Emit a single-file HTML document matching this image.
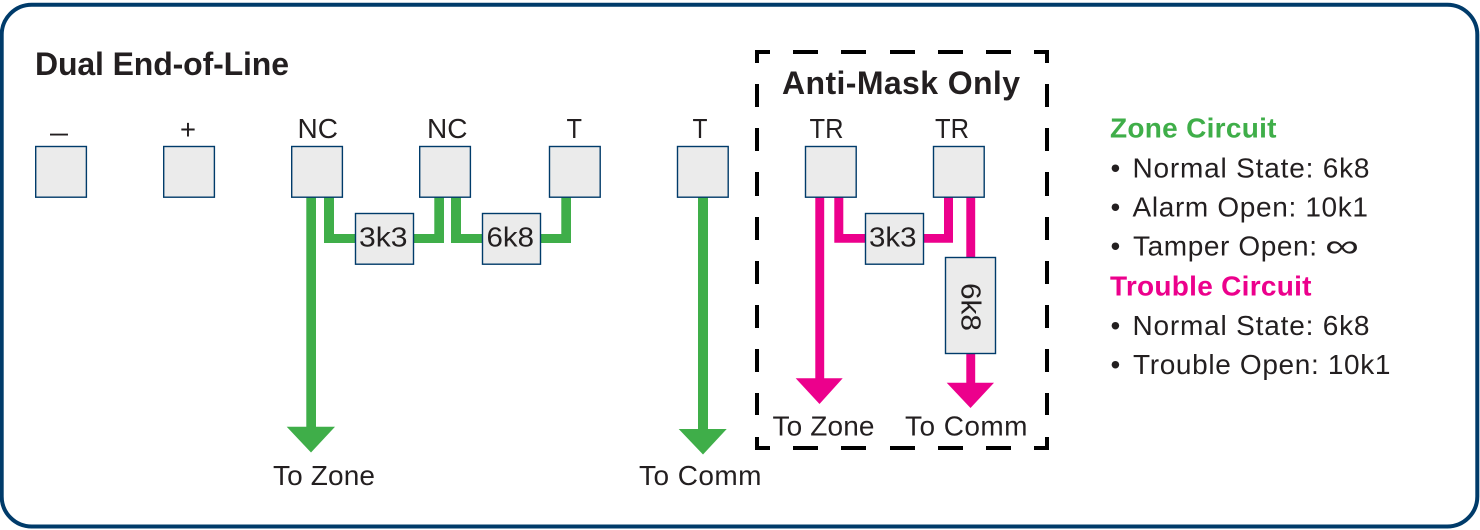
<!DOCTYPE html>
<html lang="en">
<head>
<meta charset="utf-8">
<title>Dual End-of-Line</title>
<style>
html,body{margin:0;padding:0;background:#fff;width:1480px;height:530px;overflow:hidden}
svg{display:block}
text{font-family:"Liberation Sans","DejaVu Sans",sans-serif;font-size:28px;fill:#231f20}
.b{font-weight:bold}
.box{fill:#ebebeb;stroke:#003b6a;stroke-width:1.4}
</style>
</head>
<body>
<svg xmlns="http://www.w3.org/2000/svg" width="1480" height="530" viewBox="0 0 1480 530">
<rect x="1.7" y="4.7" width="1475.6" height="521.8" rx="30" ry="30" fill="#fff" stroke="#003b6a" stroke-width="4"/>

<!-- dashed frame -->
<g fill="#000">
<path d="M755 50h15v4h-11v9h-4zM1049 50h-15v4h11v9h4zM755 450h15v-4h-11v-9h-4zM1049 450h-15v-4h11v-9h4z"/>
<rect x="793" y="50" width="25" height="4"/><rect x="841" y="50" width="25" height="4"/><rect x="890" y="50" width="25" height="4"/><rect x="938" y="50" width="25" height="4"/><rect x="986" y="50" width="25" height="4"/>
<rect x="793" y="446" width="25" height="4"/><rect x="841" y="446" width="25" height="4"/><rect x="890" y="446" width="25" height="4"/><rect x="938" y="446" width="25" height="4"/><rect x="986" y="446" width="25" height="4"/>
<rect x="755" y="84" width="4" height="23"/><rect x="755" y="128" width="4" height="23"/><rect x="755" y="172" width="4" height="24"/><rect x="755" y="217" width="4" height="23"/><rect x="755" y="261" width="4" height="23"/><rect x="755" y="305" width="4" height="23"/><rect x="755" y="349" width="4" height="23"/><rect x="755" y="393" width="4" height="22"/>
<rect x="1045" y="84" width="4" height="23"/><rect x="1045" y="128" width="4" height="23"/><rect x="1045" y="172" width="4" height="24"/><rect x="1045" y="217" width="4" height="23"/><rect x="1045" y="261" width="4" height="23"/><rect x="1045" y="305" width="4" height="23"/><rect x="1045" y="349" width="4" height="23"/><rect x="1045" y="393" width="4" height="22"/>
</g>

<!-- green wires -->
<g fill="#3fae49">
<rect x="306.3" y="197" width="9.7" height="232"/>
<polygon points="286.7,426.7 335,426.7 311,452.5"/>
<path d="M324 197h10v37h22v9h-32z"/>
<path d="M434.3 197h9.7v46h-31v-9h21.3z"/>
<path d="M451 197h10v37h22v9h-32z"/>
<path d="M561.3 197h9.7v46h-31v-9h21.3z"/>
<rect x="698" y="197" width="10" height="234"/>
<polygon points="678.7,429 726.7,429 703,454.5"/>
</g>

<!-- pink wires -->
<g fill="#ec008c">
<rect x="815.3" y="197" width="8.9" height="183"/>
<polygon points="795.7,378.3 842.7,378.3 819.5,404"/>
<path d="M834.3 197h9v37h23v8.8h-32z"/>
<path d="M944 197h9v45.8h-30v-8.8h21z"/>
<rect x="966.3" y="197" width="8.9" height="187"/>
<polygon points="946.7,382.7 994,382.7 970.5,408"/>
</g>

<!-- terminals -->
<rect class="box" x="35.7" y="146.5" width="50.7" height="50.7"/>
<rect class="box" x="163.7" y="146.5" width="50.7" height="50.7"/>
<rect class="box" x="291.7" y="146.5" width="50.7" height="50.7"/>
<rect class="box" x="419.7" y="146.5" width="50.7" height="50.7"/>
<rect class="box" x="549.5" y="146.5" width="50.7" height="50.7"/>
<rect class="box" x="677.5" y="146.5" width="50.7" height="50.7"/>
<rect class="box" x="805.5" y="146.5" width="50.7" height="50.7"/>
<rect class="box" x="933.5" y="146.5" width="50.7" height="50.7"/>

<!-- resistors -->
<rect class="box" x="355.5" y="213.5" width="58" height="50.7"/>
<rect class="box" x="482.5" y="213.5" width="58" height="50.7"/>
<rect class="box" x="865.5" y="213.5" width="58" height="50.7"/>
<rect class="box" x="945.5" y="257.5" width="50" height="96"/>

<!-- titles -->
<text class="b" x="35" y="75" style="font-size:32px" textLength="254">Dual End-of-Line</text>
<text class="b" x="782" y="94" style="font-size:32px" textLength="238">Anti-Mask Only</text>

<!-- terminal labels -->
<text x="50" y="141.5" textLength="18" lengthAdjust="spacingAndGlyphs">–</text>
<text x="180" y="139" textLength="16" lengthAdjust="spacingAndGlyphs">+</text>
<text x="297.5" y="138" textLength="40.5" lengthAdjust="spacingAndGlyphs">NC</text>
<text x="427" y="138" textLength="40.5" lengthAdjust="spacingAndGlyphs">NC</text>
<text x="566.5" y="138" textLength="15.5" lengthAdjust="spacingAndGlyphs">T</text>
<text x="692.5" y="138" textLength="15" lengthAdjust="spacingAndGlyphs">T</text>
<text x="809.5" y="138" textLength="34" lengthAdjust="spacingAndGlyphs">TR</text>
<text x="935" y="138" textLength="34" lengthAdjust="spacingAndGlyphs">TR</text>

<!-- resistor labels -->
<text x="359" y="246.5" textLength="48.5" lengthAdjust="spacingAndGlyphs">3k3</text>
<text x="486.5" y="246.5" textLength="47.5" lengthAdjust="spacingAndGlyphs">6k8</text>
<text x="869" y="246.5" textLength="47.5" lengthAdjust="spacingAndGlyphs">3k3</text>
<text transform="translate(961.5 283) rotate(90)" textLength="48" lengthAdjust="spacingAndGlyphs">6k8</text>

<!-- destinations -->
<text x="273" y="485" textLength="102">To Zone</text>
<text x="639" y="485" textLength="122.5">To Comm</text>
<text x="772.5" y="435.7" textLength="102">To Zone</text>
<text x="905" y="435.7" textLength="122.5">To Comm</text>

<!-- legend -->
<text class="b" x="1110" y="137.7" style="fill:#3fae49" textLength="166.5">Zone Circuit</text>
<text x="1110.5" y="177.7">•</text>
<text x="1132.5" y="177.7" textLength="237">Normal State: 6k8</text>
<text x="1110.5" y="216.7">•</text>
<text x="1132.5" y="216.7" textLength="235.5">Alarm Open: 10k1</text>
<text x="1110.5" y="255.7">•</text>
<text x="1133" y="255.7" textLength="184">Tamper Open:</text>
<text x="1325" y="257" textLength="34" lengthAdjust="spacingAndGlyphs" style="font-size:33px">∞</text>
<text class="b" x="1110" y="295.7" style="fill:#ec008c" textLength="201.5">Trouble Circuit</text>
<text x="1110.5" y="335">•</text>
<text x="1132.5" y="335" textLength="237">Normal State: 6k8</text>
<text x="1110.5" y="374">•</text>
<text x="1133" y="374" textLength="257.5">Trouble Open: 10k1</text>
</svg>
</body>
</html>
